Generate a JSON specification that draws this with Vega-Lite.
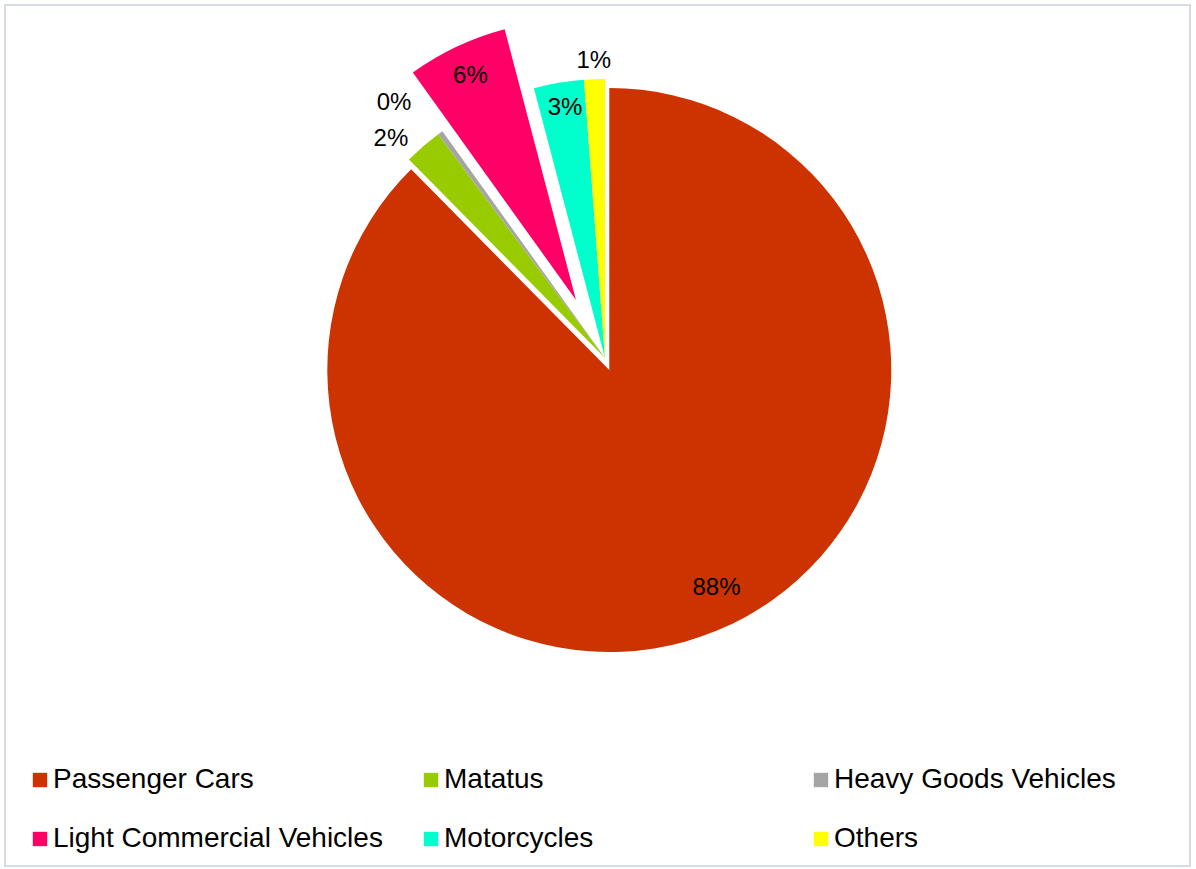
{
  "$schema": "https://vega.github.io/schema/vega-lite/v6.json",
  "width": 1185,
  "height": 861,
  "autosize": "none",
  "padding": {"left": 5, "top": 5, "right": 6, "bottom": 3},
  "background": "white",
  "view": {"stroke": "#D6DBE3", "strokeWidth": 2, "fill": "white"},
  "config": {"font": "Liberation Sans"},
  "data": {"values": [
    {"cat": "Passenger Cars", "ord": 1, "share": 0.876},
    {"cat": "Matatus", "ord": 2, "share": 0.022},
    {"cat": "Heavy Goods Vehicles", "ord": 3, "share": 0.003},
    {"cat": "Light Commercial Vehicles", "ord": 4, "share": 0.058},
    {"cat": "Motorcycles", "ord": 5, "share": 0.029},
    {"cat": "Others", "ord": 6, "share": 0.012}
  ]},
  "resolve": {"scale": {"color": "independent"}, "legend": {"color": "independent"}},
  "layer": [
    {
      "transform": [{"stack": "share", "groupby": [], "sort": [{"field": "ord"}], "as": ["t0", "t1"]}],
      "encoding": {
        "theta": {"field": "t0", "type": "quantitative", "stack": null, "scale": {"domain": [0, 1]}},
        "theta2": {"field": "t1"},
        "color": {
          "field": "cat", "type": "nominal",
          "scale": {"domain": ["Passenger Cars", "Matatus", "Light Commercial Vehicles", "Motorcycles"], "range": ["#CC3300", "#99CC00", "#FF0066", "#00FFCC"]},
          "legend": {"title": null, "orient": "none", "direction": "horizontal", "legendX": 21, "legendY": 761, "columns": 2, "columnPadding": 34, "rowPadding": 31, "symbolType": "square", "symbolSize": 207, "symbolStrokeWidth": 0, "labelFontSize": 28, "labelFont": "Liberation Sans", "labelColor": "#000000", "labelOffset": -1, "labelLimit": 600, "padding": 0}
        }
      },
      "layer": [
        {"transform": [{"filter": "datum.cat === 'Passenger Cars'"}], "mark": {"type": "arc", "radius": 282, "xOffset": 11.8, "yOffset": -65.5}},
        {"transform": [{"filter": "datum.cat === 'Matatus' || datum.cat === 'Motorcycles'"}], "mark": {"type": "arc", "radius": 279, "xOffset": 7.5, "yOffset": -77.5}},
        {"transform": [{"filter": "datum.cat === 'Light Commercial Vehicles'"}], "mark": {"type": "arc", "radius": 280, "xOffset": -21.5, "yOffset": -135.5}}
      ]
    },
    {
      "transform": [
        {"stack": "share", "groupby": [], "sort": [{"field": "ord"}], "as": ["t0", "t1"]},
        {"filter": "datum.cat === 'Heavy Goods Vehicles' || datum.cat === 'Others'"}
      ],
      "mark": {"type": "arc", "radius": 279, "xOffset": 7.5, "yOffset": -77.5},
      "encoding": {
        "theta": {"field": "t0", "type": "quantitative", "stack": null, "scale": {"domain": [0, 1]}},
        "theta2": {"field": "t1"},
        "color": {
          "field": "cat", "type": "nominal",
          "scale": {"domain": ["Heavy Goods Vehicles", "Others"], "range": ["#A5A5A5", "#FFFF00"]},
          "legend": {"title": null, "orient": "none", "direction": "horizontal", "legendX": 802, "legendY": 761, "columns": 1, "rowPadding": 31, "symbolType": "square", "symbolSize": 207, "symbolStrokeWidth": 0, "labelFontSize": 28, "labelFont": "Liberation Sans", "labelColor": "#000000", "labelOffset": -1, "labelLimit": 600, "padding": 0}
        }
      }
    },
    {
      "encoding": {
        "theta": {"field": "share", "type": "quantitative", "stack": true, "scale": {"domain": [0, 1]}},
        "order": {"field": "ord"},
        "detail": {"field": "cat"}
      },
      "layer": [
        {"mark": {"type": "text", "radius": 240, "xOffset": 11.8, "yOffset": -65.5, "dx": 16, "dy": -4, "fontSize": 24, "color": "#000000", "baseline": "middle", "align": "center"},
         "encoding": {"text": {"condition": {"test": "datum.cat === 'Passenger Cars'", "field": "share", "type": "quantitative", "format": ".0%"}, "value": ""}}},
        {"mark": {"type": "text", "radius": 290, "xOffset": 7.5, "yOffset": -77.5, "dx": -25, "dy": 1, "fontSize": 24, "color": "#000000", "baseline": "middle", "align": "center"},
         "encoding": {"text": {"condition": {"test": "datum.cat === 'Matatus'", "field": "share", "type": "quantitative", "format": ".0%"}, "value": ""}}},
        {"mark": {"type": "text", "radius": 310, "xOffset": 7.5, "yOffset": -77.5, "dx": -28, "dy": -5, "fontSize": 24, "color": "#000000", "baseline": "middle", "align": "center"},
         "encoding": {"text": {"condition": {"test": "datum.cat === 'Heavy Goods Vehicles'", "field": "share", "type": "quantitative", "format": ".0%"}, "value": ""}}},
        {"mark": {"type": "text", "radius": 248, "xOffset": -21.5, "yOffset": -135.5, "fontSize": 24, "color": "#000000", "baseline": "middle", "align": "center"},
         "encoding": {"text": {"condition": {"test": "datum.cat === 'Light Commercial Vehicles'", "field": "share", "type": "quantitative", "format": ".0%"}, "value": ""}}},
        {"mark": {"type": "text", "radius": 253, "xOffset": 7.5, "yOffset": -77.5, "dx": 2, "fontSize": 24, "color": "#000000", "baseline": "middle", "align": "center"},
         "encoding": {"text": {"condition": {"test": "datum.cat === 'Motorcycles'", "field": "share", "type": "quantitative", "format": ".0%"}, "value": ""}}},
        {"mark": {"type": "text", "radius": 297, "xOffset": 7.5, "yOffset": -77.5, "fontSize": 24, "color": "#000000", "baseline": "middle", "align": "center"},
         "encoding": {"text": {"condition": {"test": "datum.cat === 'Others'", "field": "share", "type": "quantitative", "format": ".0%"}, "value": ""}}}
      ]
    }
  ]
}
